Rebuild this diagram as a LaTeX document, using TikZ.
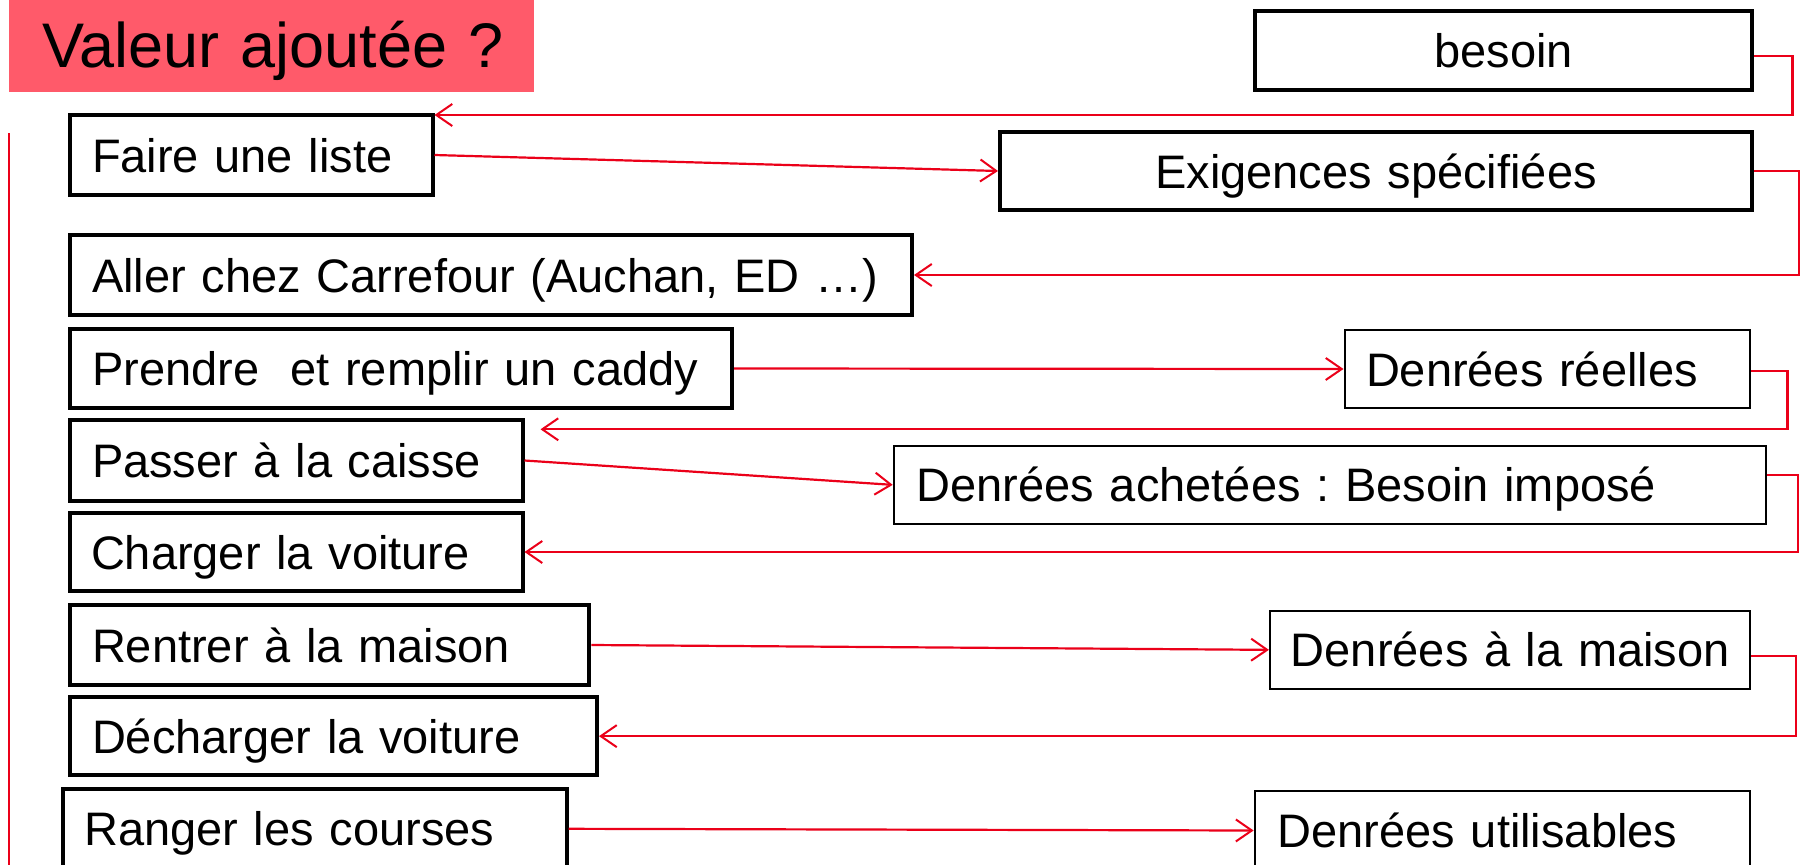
\documentclass[tikz,border=0pt]{standalone}
\usepackage{fontspec}
\setmainfont{Liberation Sans}
\usetikzlibrary{arrows.meta,calc}
\definecolor{titlefill}{RGB}{255,90,106}
\definecolor{flowred}{RGB}{235,0,25}
\frenchspacing
\begin{document}
\begin{tikzpicture}[x=1pt,y=-1pt,
  every node/.style={font=\fontsize{47}{56}\selectfont},
  box/.style={draw=black, anchor=north west, inner xsep=22pt, inner ysep=0pt,
    text height=34pt, text depth=0pt, align=left},
  thickbox/.style={box, line width=4pt},
  thinbox/.style={box, line width=2pt},
  flow/.style={draw=flowred, line width=2.2pt,
    -{Straight Barb[length=16pt,width=22pt,line width=2pt]}},
  plain/.style={draw=flowred, line width=2.2pt}]
\useasboundingbox[fill=white] (0,0) rectangle (1800,865);
\clip (0,0) rectangle (1800,865);

% title
\node[anchor=north west, fill=titlefill, inner xsep=33pt, inner ysep=0pt,
  minimum width=525pt, minimum height=92pt, text width=459pt, align=left,
  text height=45pt, text depth=3pt, font=\fontsize{63}{72}\selectfont]
  (title) at (9,0) {\mbox{Valeur ajoutée ?}};

% activities (left column)
\node[thickbox, minimum width=362.5pt, minimum height=80pt, text width=318.5pt]
  (faire) at (68,113) {\mbox{Faire une liste}};
\node[thickbox, minimum width=842pt, minimum height=80pt, text width=798pt]
  (aller) at (68,233) {\mbox{Aller chez Carrefour (Auchan, ED …)}};
\node[thickbox, minimum width=662pt, minimum height=79pt, text width=618pt]
  (prendre) at (68,327) {\mbox{Prendre\ \ et remplir un caddy}};
\node[thickbox, minimum width=452.5pt, minimum height=81pt, text width=408.5pt]
  (passer) at (68,418) {\mbox{Passer à la caisse}};
\node[thickbox, inner xsep=21pt, minimum width=452.5pt, minimum height=78.6pt, text width=410.5pt]
  (charger) at (68,510.7) {\mbox{Charger la voiture}};
\node[thickbox, minimum width=519.4pt, minimum height=80.6pt, text width=475.4pt]
  (rentrer) at (68,602.7) {\mbox{Rentrer à la maison}};
\node[thickbox, minimum width=527pt, minimum height=78.3pt, text width=483pt]
  (decharger) at (68,695) {\mbox{Décharger la voiture}};
\node[thickbox, inner xsep=21pt, minimum width=503.3pt, minimum height=79pt, text width=461.3pt]
  (ranger) at (61.2,787.3) {\mbox{Ranger les courses}};

% results (right column)
\node[thickbox, align=center, minimum width=497pt, minimum height=79pt, text width=453pt]
  (besoin) at (1253,9) {\mbox{besoin}};
\node[thickbox, align=center, minimum width=752pt, minimum height=78pt, text width=708pt]
  (exig) at (998,130) {\mbox{Exigences spécifiées}};
\node[thinbox, inner xsep=21.5pt, minimum width=405.5pt, minimum height=78pt, text width=362.5pt]
  (reelles) at (1343.5,329) {\mbox{Denrées réelles}};
\node[thinbox, inner xsep=23pt, minimum width=871.8pt, minimum height=77.7pt, text width=825.8pt]
  (achetees) at (892.7,445) {\mbox{Denrées achetées : Besoin imposé}};
\node[thinbox, inner xsep=21pt, minimum width=480.1pt, minimum height=77.7pt, text width=438.1pt]
  (maison) at (1268.9,610) {\mbox{Denrées à la maison}};
\node[thinbox, inner xsep=23pt, minimum width=495.4pt, minimum height=79pt, text width=449.4pt]
  (utilisables) at (1253.6,790) {\mbox{Denrées utilisables}};

% left vertical line
\coordinate (vtop) at (9,133);
\coordinate (vbot) at (9,880);
\draw[plain] (vtop) -- (vbot);

% connectors
\draw[flow] ([yshift=-5.5pt]besoin.east) -- ++(38.5,0) |- ([yshift=-2pt]faire.north east);
\draw[flow] (faire.east) -- (exig.west);
\draw[flow] (exig.east) -- ++(45,0) |- (aller.east);
\draw[flow] (prendre.east) -- (reelles.west);
\coordinate (passin) at ([xshift=16pt,yshift=-11.3pt]passer.north east);
\draw[flow] ([yshift=-2pt]reelles.east) -- ++(36.5,0) |- (passin);
\draw[flow] (passer.east) -- (achetees.west);
\draw[flow] ([yshift=9.7pt]achetees.east) -- ++(31.5,0) |- (charger.east);
\draw[flow] (rentrer.east) -- (maison.west);
\draw[flow] ([yshift=-6pt]maison.east) -- ++(45,0) |- (decharger.east);
\draw[flow] (ranger.east) -- (utilisables.west);
\end{tikzpicture}
\end{document}
